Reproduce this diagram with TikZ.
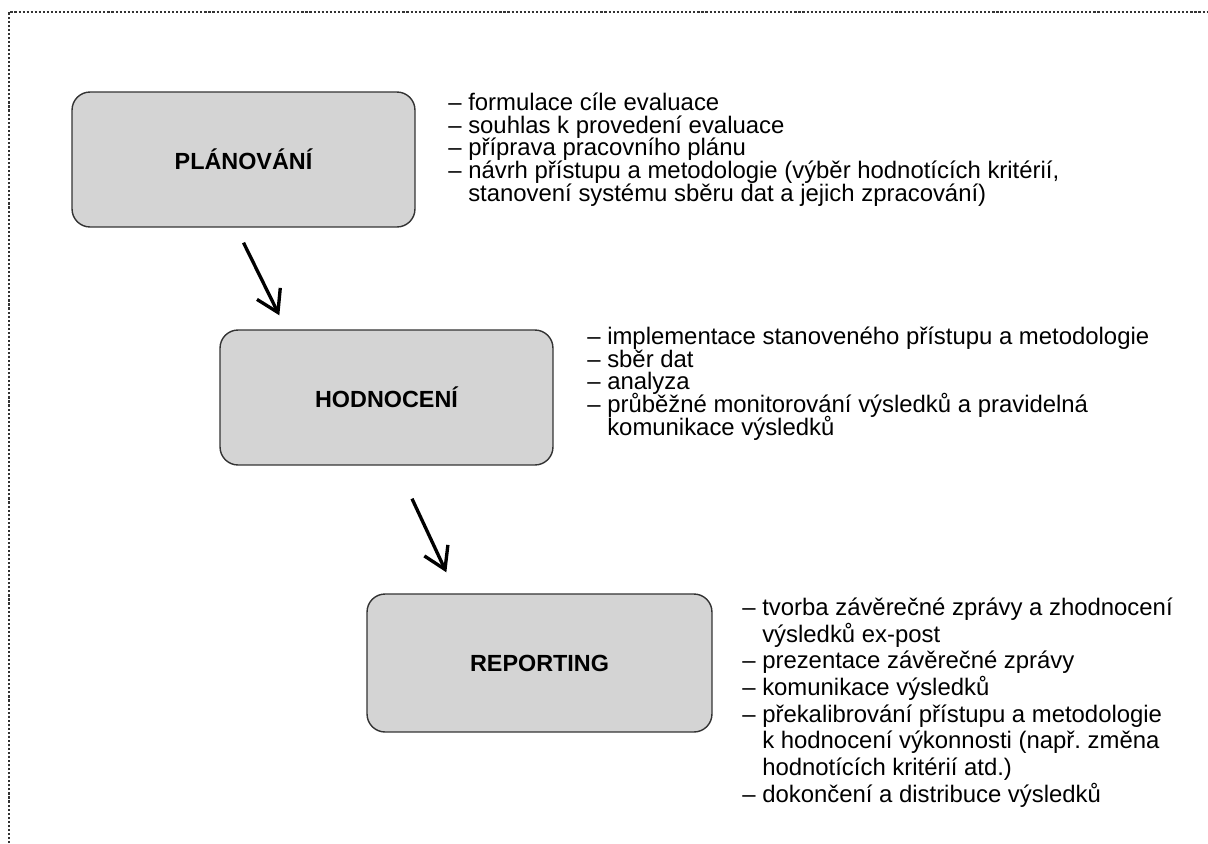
\documentclass[tikz,border=0pt]{standalone}
\usepackage{fontspec}
\setmainfont{Liberation Sans}
\usetikzlibrary{arrows.meta}
\frenchspacing

\newcommand{\listfont}{\fontsize{13.6}{12.9}\selectfont\lineskiplimit=-20pt}
\newcommand{\wide}{\fontsize{13.6}{15.2}\selectfont\lineskiplimit=-20pt}
\newcommand{\ind}{\hphantom{– }}

\tikzset{
	phase/.style={draw=black!80, line width=0.8pt, fill=black!17,
		rounded corners=0.36cm, inner sep=0pt,
		font=\fontsize{13.3}{15}\selectfont\bfseries},
	notes/.style={anchor=north west, inner sep=0pt, align=left, font=\listfont},
	flow/.style={-{Straight Barb[length=0.42cm, width=0.52cm]}, line width=1.9pt},
	frame/.style={black!80, line width=1.2pt, dash pattern=on 1.2pt off 1.1pt}
}

\begin{document}
\begin{tikzpicture}[x=0.02cm, y=-0.02cm]
	\useasboundingbox (0,0) rectangle (1208,843);
	\draw [frame] (9,843) -- (9,12) -- (1208,12);

	\node [phase, minimum width=6.86cm, minimum height=2.7cm] (plan) at (243.5,159.5) {PLÁNOVÁNÍ};
	\node [phase, minimum width=6.66cm, minimum height=2.7cm] (eval) at (386.5,397.5) {HODNOCENÍ};
	\node [phase, minimum width=6.9cm, minimum height=2.76cm] (report) at (539.5,663) {REPORTING};

	\node [notes] (plannotes) at (448,92.5) {– formulace cíle evaluace\\
		– souhlas k provedení evaluace\\
		– příprava pracovního plánu\\
		– návrh přístupu a metodologie (výběr hodnotících kritérií,\\
		\ind stanovení systému sběru dat a jejich zpracování)};
	\node [notes] (evalnotes) at (587,326.5) {– implementace stanoveného přístupu a metodologie\\
		– sběr dat\\
		– analyza\\
		– průběžné monitorování výsledků a pravidelná\\
		\ind komunikace výsledků};
	\node [notes, font=\wide] (reportnotes) at (742,597.5) {– tvorba závěrečné zprávy a zhodnocení\\
		\ind výsledků ex-post\\
		– prezentace závěrečné zprávy\\
		– komunikace výsledků\\
		– překalibrování přístupu a metodologie\\
		\ind k hodnocení výkonnosti (např. změna\\
		\ind hodnotících kritérií atd.)\\
		– dokončení a distribuce výsledků};

	\draw [flow] ([shift={(0,15)}]plan.south) -- ([shift={(60,-14)}]eval.north west);
	\draw [flow] ([shift={(25.5,33)}]eval.south) -- ([shift={(80,-21)}]report.north west);
\end{tikzpicture}
\end{document}
